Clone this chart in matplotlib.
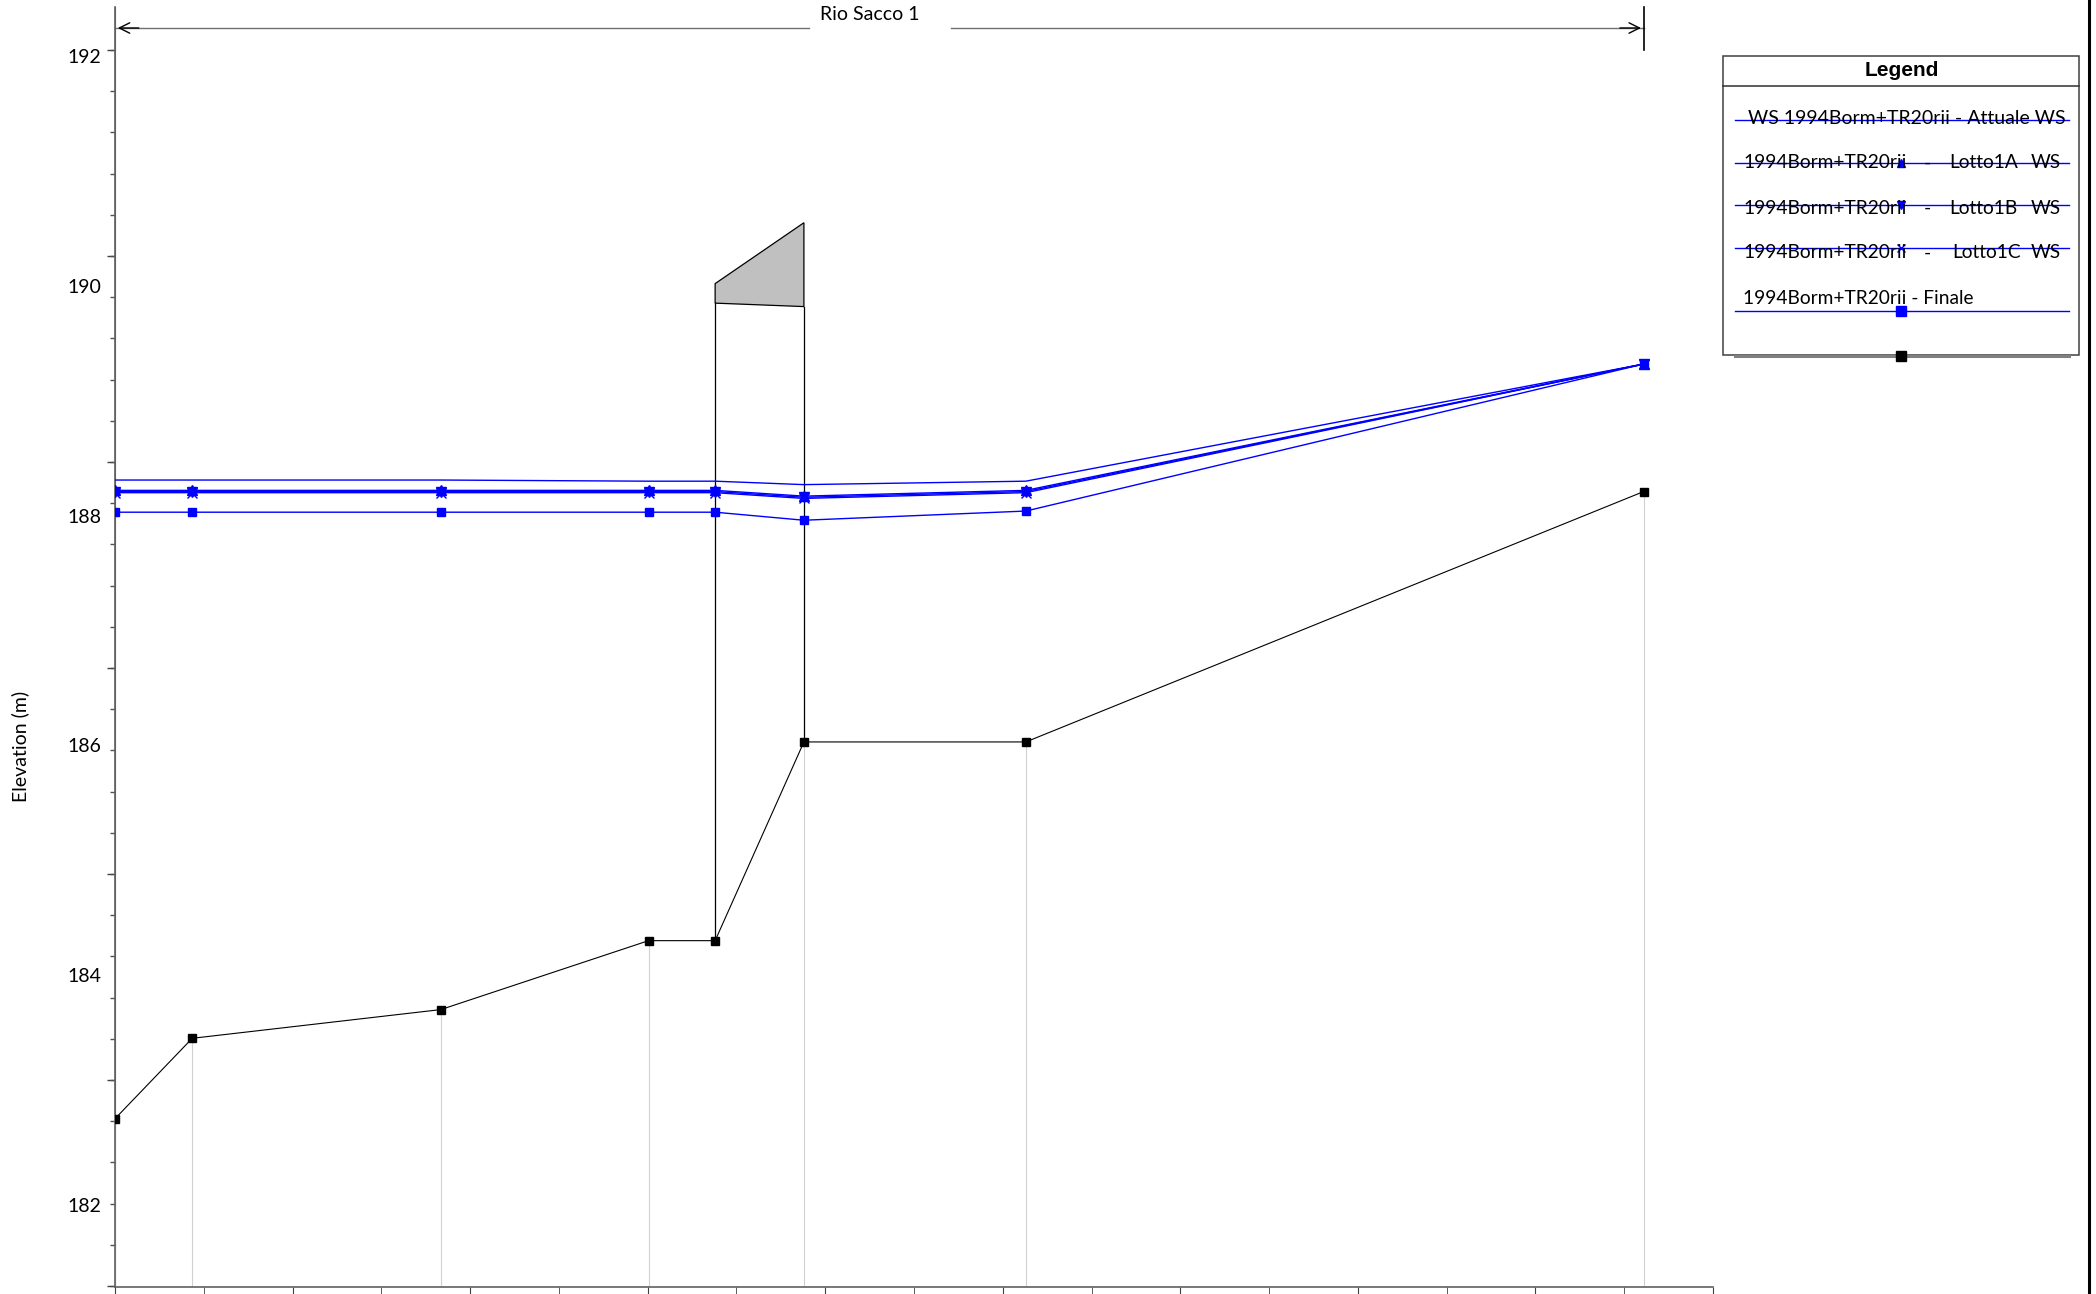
import numpy as np
import matplotlib.pyplot as plt
from matplotlib.patches import Polygon, Rectangle
from matplotlib.ticker import FixedLocator, MultipleLocator

# Profile data (main channel distance [m], elevations [m])
station = [0, 8.7, 36.7, 60.1, 67.6, 77.6, 102.6, 172.2]
ground = [182.75, 183.45, 183.70, 184.30, 184.30, 186.03, 186.03, 188.21]
ws_attuale = [188.31, 188.31, 188.31, 188.30, 188.30, 188.27, 188.30, 189.32]
ws_lotto1a = [188.22, 188.22, 188.22, 188.22, 188.22, 188.17, 188.22, 189.32]
ws_lotto1b = [188.21, 188.21, 188.21, 188.21, 188.21, 188.16, 188.21, 189.32]
ws_lotto1c = [188.20, 188.20, 188.20, 188.20, 188.20, 188.15, 188.20, 189.32]
ws_finale = [188.03, 188.03, 188.03, 188.03, 188.03, 187.96, 188.04, 189.32]

# Bridge deck (upstream / downstream faces)
bridge_x = [67.6, 77.6]
deck_top = [190.02, 190.55]
deck_low = [189.85, 189.82]

ytick_values = [182, 184, 186, 188, 190, 192]
legend_labels = ["WS 1994Borm+TR20rii - Attuale WS",
                 "1994Borm+TR20rii - Lotto1A WS",
                 "1994Borm+TR20rii - Lotto1B WS",
                 "1994Borm+TR20rii - Lotto1C WS",
                 "1994Borm+TR20rii - Finale"]

TXT = ['Lato', 'DejaVu Sans']
W, H = 2096, 1294
fig = plt.figure(figsize=(W / 100, H / 100), dpi=100)
ax = fig.add_axes([115 / W, 1 - 1287 / H, (1713 - 115) / W, (1287 - 7) / H])
ax.set_xlim(0, 180)
ax.set_ylim(181.285, 192.428)

blue = '#0000ff'
# station lines below the ground (none at the bridge upstream face)
for xs, g in zip(station, ground):
    if xs == bridge_x[0]:
        continue
    ax.plot([xs, xs], [181.285, g], color='#d0d0d0', lw=0.8, zorder=1)

# bridge
deck = Polygon([[bridge_x[0], deck_low[0]], [bridge_x[0], deck_top[0]],
                [bridge_x[1], deck_top[1]], [bridge_x[1], deck_low[1]]],
               closed=True, facecolor='#c0c0c0', edgecolor='black', lw=0.9, zorder=3)
ax.add_patch(deck)
for bx, lo in zip(bridge_x, deck_low):
    gi = station.index(bx)
    ax.plot([bx, bx], [ground[gi], lo], color='black', lw=0.9, zorder=3)

ax.plot(station, ground, color='black', lw=0.8, marker='s', ms=5.8, zorder=4)
ax.plot(station, ws_attuale, color=blue, lw=1.0, zorder=5)
ax.plot(station, ws_finale, color=blue, lw=1.0, marker='s', ms=5.8, zorder=5)
ax.plot(station, ws_lotto1a, color=blue, lw=1.0, marker='^', ms=7, zorder=6)
ax.plot(station, ws_lotto1b, color=blue, lw=1.0, marker='v', ms=7, zorder=6)
ax.plot(station, ws_lotto1c, color=blue, lw=1.0, marker='x', ms=7, mew=1, zorder=6)

# axes styling
for s in ['top', 'right']:
    ax.spines[s].set_visible(False)
for s in ['left', 'bottom']:
    ax.spines[s].set_color('#606060')
    ax.spines[s].set_linewidth(1.2)

ax.set_yticks(ytick_values)
ax.set_yticklabels([str(v) for v in ytick_values], fontfamily=TXT, fontsize=14)
ax.tick_params(axis='y', which='major', length=0, pad=10)
tick_top, tick_step = 192.054, 0.3587
minor_y = tick_top - tick_step * np.arange(0, 31)
minor_y = minor_y[minor_y >= 181.285]
ax.yaxis.set_minor_locator(FixedLocator(minor_y))
ax.tick_params(axis='y', which='minor', length=3.6, color='#505050', width=1)
sec = ax.secondary_yaxis('left')
sec.set_yticks(minor_y[::5])
sec.set_yticklabels([])
sec.tick_params(length=6, color='#404040', width=1)
sec.spines['left'].set_color('#606060')

ax.xaxis.set_major_locator(MultipleLocator(20))
ax.xaxis.set_minor_locator(MultipleLocator(10))
ax.tick_params(axis='x', which='major', length=6, color='#404040', labelbottom=False)
ax.tick_params(axis='x', which='minor', length=5, color='#404040')

fig.text(20 / W, 1 - 746 / H, 'Elevation (m)', rotation=90, ha='center', va='center',
         fontsize=14, family=TXT)

# reach annotation at the top
tr = ax.get_xaxis_transform()
ya = 1 - (28 - 7) / 1280
ax.plot([station[0], 78.2], [ya, ya], color='#707070', lw=1, transform=tr, clip_on=False)
ax.plot([94.2, station[-1]], [ya, ya], color='#707070', lw=1, transform=tr, clip_on=False)
ax.annotate('', xy=(station[0], ya), xytext=(station[0] + 3, ya), xycoords=tr, textcoords=tr,
            arrowprops=dict(arrowstyle='->,head_length=0.5,head_width=0.25', mutation_scale=15,
                            color='black', lw=1))
ax.annotate('', xy=(station[-1], ya), xytext=(station[-1] - 3, ya), xycoords=tr, textcoords=tr,
            arrowprops=dict(arrowstyle='->,head_length=0.5,head_width=0.25', mutation_scale=15,
                            color='black', lw=1))
ax.plot([station[-1], station[-1]], [1.0, 1 - (50 - 7) / 1280], color='black', lw=1.2,
        transform=tr, clip_on=False)
ax.text(85.0, 1 - (15 - 7) / 1280, 'Rio Sacco 1', transform=tr, ha='center', va='center',
        fontsize=14, family=TXT)

# legend panel, drawn in pixel coordinates
lg = fig.add_axes([0, 0, 1, 1], zorder=10)
lg.set_xlim(0, W)
lg.set_ylim(H, 0)
lg.axis('off')
lg.patch.set_alpha(0)
lg.plot([2089, 2089], [0, H], color='black', lw=2.2)
lg.add_patch(Rectangle((1723, 56), 356, 299, facecolor='white', edgecolor='#404040', lw=1.1))
lg.plot([1723, 2079], [86, 86], color='#303030', lw=1.1)
lg.text(1902, 70, 'Legend', ha='center', va='center', fontsize=15, fontweight='bold',
        family=['Liberation Sans', 'DejaVu Sans'])

fs = 13.8
text_y = [119, 163, 208, 253, 299]
line_y = [120, 163, 205, 248, 311]
lg.text(1748, text_y[0], legend_labels[0], ha='left', va='center', fontsize=14, family=TXT)
for i, lab in zip([1, 2, 3], ['Lotto1A', 'Lotto1B', 'Lotto1C']):
    lg.text(1743, text_y[i], '1994Borm+TR20rii', ha='left', va='center', fontsize=fs, family=TXT)
    lg.text(1927, text_y[i], '-', ha='center', va='center', fontsize=fs, family=TXT)
    lg.text(1949 if i < 3 else 1952, text_y[i], lab, ha='left', va='center', fontsize=fs, family=TXT)
    lg.text(2061, text_y[i], 'WS', ha='right', va='center', fontsize=fs, family=TXT)
lg.text(1743, text_y[4], legend_labels[4], ha='left', va='center', fontsize=fs, family=TXT)

markers = [None, '^', 'v', 'x', 's']
for ly, mk in zip(line_y, markers):
    lg.plot([1735, 2069], [ly, ly], color=blue, lw=1.0)
    if mk:
        lg.plot([1901], [ly], color=blue, marker=mk, ms=6 if mk != 's' else 6.5, mew=1)
lg.plot([1735, 2069], [356, 356], color='#808080', lw=2.2)
lg.plot([1901], [356], color='black', marker='s', ms=6.5)

fig.savefig('out.png', dpi=100)
